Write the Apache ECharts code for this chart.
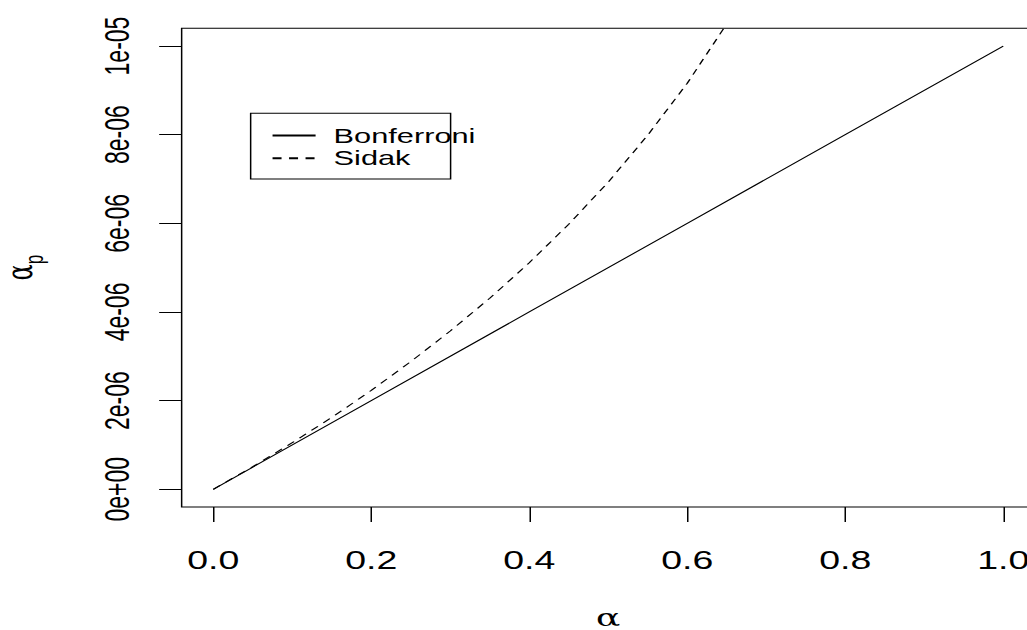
<!DOCTYPE html>
<html>
<head>
<meta charset="utf-8">
<script src="https://cdn.jsdelivr.net/npm/echarts@6/dist/echarts.min.js"></script>
<style>
  html, body { margin: 0; padding: 0; overflow: hidden; background: #fff; }
  /* the reference is a stretched R plot, so draw narrow and stretch sideways */
  #chart { width: 700px; height: 630px; transform: scaleX(1.5); transform-origin: 0 0; }
</style>
</head>
<body>
<div id="chart"></div>
<script>
// values
const alphaX = [0, 0.05, 0.1, 0.15, 0.2, 0.25, 0.3, 0.35, 0.4, 0.45, 0.5, 0.55, 0.6, 0.65]
const sidakY = [0, 0.51, 1.05, 1.62, 2.23, 2.88, 3.57, 4.31, 5.11, 5.98, 6.93, 7.99, 9.16, 10.5] // x 1e-6
const bonfX = [0, 0.2, 0.4, 0.6, 0.8, 1.0]
const bonfY = [0, 2, 4, 6, 8, 10] // x 1e-6
const xTicks = [0, 0.2, 0.4, 0.6, 0.8, 1.0]
const yTicks = [0, 2e-6, 4e-6, 6e-6, 8e-6, 1e-5]
const yTickLabels = ['0e+00', '2e-06', '4e-06', '6e-06', '8e-06', '1e-05']

const font = 'Liberation Sans, Arial, sans-serif'
const serif = 'DejaVu Serif, serif'
const chart = echarts.init(document.getElementById('chart'), null, { renderer: 'svg' })

chart.setOption({
  animation: false,
  backgroundColor: '#fff',
  textStyle: { fontFamily: font, color: '#000' },
  grid: {
    left: 121.1,
    right: 10.1,
    top: 28.3,
    bottom: 123,
    outerBoundsMode: 'none',
    containLabel: false,
    show: true,
    borderColor: '#000',
    borderWidth: 1,
    backgroundColor: 'transparent'
  },
  legend: {
    orient: 'vertical',
    left: 180.7,
    top: 125,
    padding: 0,
    itemWidth: 28.7,
    itemHeight: 20,
    itemGap: 1.7,
    itemStyle: { opacity: 0 },
    textStyle: { fontSize: 20.5, lineHeight: 20, color: '#000', fontFamily: font, padding: [0, 0, 0, 7] },
    data: ['Bonferroni', 'Sidak']
  },
  graphic: [{
    type: 'rect',
    shape: { x: 167.1, y: 113.3, width: 133.3, height: 65.7 },
    style: { fill: 'none', stroke: '#000', lineWidth: 1 },
    z: 10
  }],
  xAxis: {
    type: 'value',
    min: -0.04,
    max: 1.04,
    name: 'α',
    nameLocation: 'middle',
    nameGap: 103,
    nameTextStyle: { fontSize: 24, lineHeight: 16, color: '#000', fontFamily: serif },
    axisLine: { show: false, onZero: false },
    splitLine: { show: false },
    axisTick: {
      show: true,
      inside: false,
      length: 15,
      customValues: xTicks,
      lineStyle: { color: '#000', width: 1 }
    },
    axisLabel: {
      customValues: xTicks,
      margin: 41,
      fontSize: 25,
      color: '#000',
      fontFamily: font,
      formatter: v => v.toFixed(1)
    }
  },
  yAxis: {
    type: 'value',
    min: -0.4e-6,
    max: 10.4e-6,
    name: '{a|α}{sub|p}',
    nameLocation: 'middle',
    nameGap: 90,
    nameTextStyle: {
      fontSize: 24,
      color: '#000',
      fontFamily: serif,
      rich: {
        a: { fontSize: 24, lineHeight: 30, fontFamily: serif, verticalAlign: 'top' },
        sub: { fontSize: 17, lineHeight: 30, fontFamily: font, verticalAlign: 'bottom' }
      }
    },
    axisLine: { show: false, onZero: false },
    splitLine: { show: false },
    axisTick: {
      show: true,
      inside: false,
      length: 15,
      customValues: yTicks,
      lineStyle: { color: '#000', width: 1 }
    },
    axisLabel: {
      customValues: yTicks,
      rotate: 90,
      margin: 32,
      fontSize: 23,
      color: '#000',
      fontFamily: font,
      formatter: v => {
        let best = 0
        yTicks.forEach((t, i) => { if (Math.abs(t - v) < Math.abs(yTicks[best] - v)) best = i })
        return yTickLabels[best]
      }
    }
  },
  series: [
    {
      name: 'Bonferroni',
      type: 'line',
      symbol: 'none',
      clip: true,
      lineStyle: { color: '#000', width: 1, type: 'solid' },
      itemStyle: { color: '#000' },
      data: bonfX.map((x, i) => [x, bonfY[i] * 1e-6])
    },
    {
      name: 'Sidak',
      type: 'line',
      symbol: 'none',
      clip: true,
      lineStyle: { color: '#000', width: 1, type: [6, 5] },
      itemStyle: { color: '#000' },
      data: alphaX.map((x, i) => [x, sidakY[i] * 1e-6])
    }
  ]
})
</script>
</body>
</html>
